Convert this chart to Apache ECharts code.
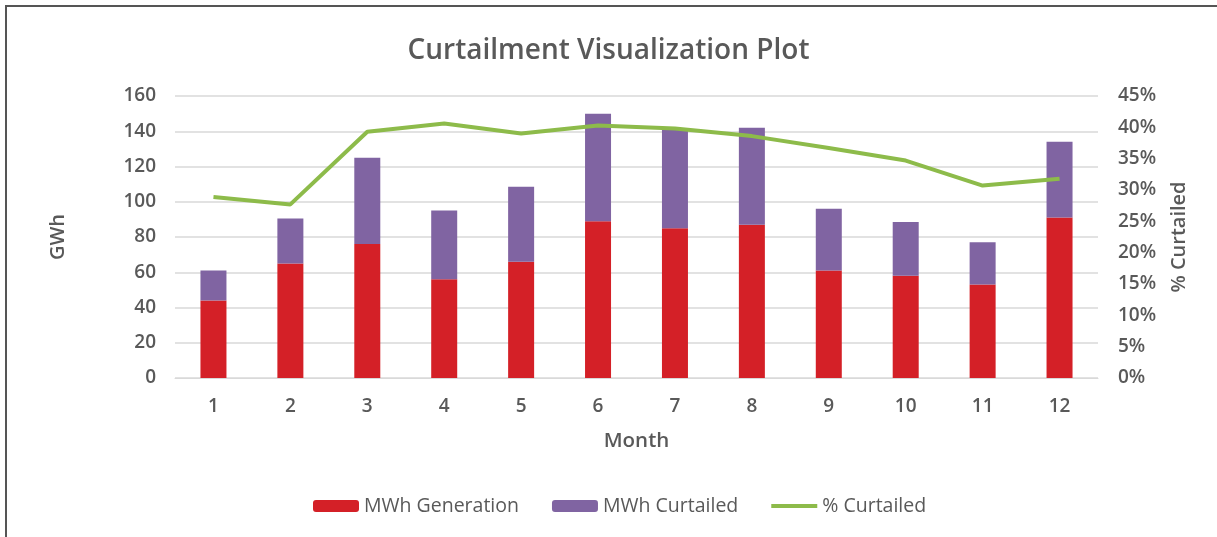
<!DOCTYPE html>
<html>
<head>
<meta charset="utf-8">
<script src="https://cdn.jsdelivr.net/npm/echarts@6/dist/echarts.min.js"></script>
<style>
html,body{margin:0;padding:0;background:#fff;}
#chart{width:1217px;height:537px;}
</style>
</head>
<body>
<div id="chart"></div>
<script>
var months = ['1','2','3','4','5','6','7','8','9','10','11','12'];
var generation = [44, 65, 76, 56, 66, 89, 85, 87, 61, 58, 53, 91];
var curtailed = [17, 25.5, 49, 39, 42.5, 61, 56, 55, 35, 30.5, 24, 43];
var pctCurtailed = [28.9, 27.7, 39.3, 40.6, 39.0, 40.3, 39.8, 38.6, 36.7, 34.7, 30.7, 31.8];

var textColor = '#595959';
var font = '"Open Sans", sans-serif';

var chart = echarts.init(document.getElementById('chart'));
chart.setOption({
  animation: false,
  backgroundColor: '#fff',
  textStyle: { fontFamily: font },
  title: {
    text: 'Curtailment Visualization Plot',
    left: 'center',
    top: 32,
    textStyle: { fontFamily: font, fontSize: 28, fontWeight: 600, color: textColor }
  },
  legend: {
    bottom: 16,
    left: 308,
    itemWidth: 46,
    itemHeight: 12,
    itemGap: 33,
    textStyle: { fontFamily: font, fontSize: 19.5, color: textColor },
    data: [
      { name: 'MWh Generation' },
      { name: 'MWh Curtailed' },
      { name: '% Curtailed', icon: 'path://M0,0 L46,0 L46,4 L0,4 Z' }
    ]
  },
  grid: { left: 175, right: 119, top: 96, bottom: 159, containLabel: false },
  xAxis: {
    type: 'category',
    data: months,
    name: 'Month',
    nameLocation: 'middle',
    nameGap: 53,
    nameTextStyle: { fontFamily: font, fontSize: 20.5, fontWeight: 600, color: textColor },
    axisLine: { show: true, lineStyle: { color: '#D9D9D9', width: 1 } },
    axisTick: { show: false },
    axisLabel: { margin: 19, fontFamily: font, fontSize: 19, fontWeight: 600, color: textColor }
  },
  yAxis: [{
    type: 'value',
    min: 0, max: 160, interval: 20,
    name: 'GWh',
    nameLocation: 'middle',
    nameGap: 107,
    nameTextStyle: { fontFamily: font, fontSize: 20, fontWeight: 600, color: textColor },
    axisLine: { show: false },
    axisTick: { show: false },
    axisLabel: { margin: 19, fontFamily: font, fontSize: 19, fontWeight: 600, color: textColor },
    splitLine: { lineStyle: { color: '#D9D9D9', width: 1.5 } }
  }, {
    type: 'value',
    min: 0, max: 45, interval: 5,
    name: '% Curtailed',
    nameLocation: 'middle',
    nameGap: 71,
    nameTextStyle: { fontFamily: font, fontSize: 20, fontWeight: 600, color: textColor },
    axisLine: { show: false },
    axisTick: { show: false },
    axisLabel: { margin: 20, formatter: '{value}%', fontFamily: font, fontSize: 19, fontWeight: 600, color: textColor },
    splitLine: { show: false }
  }],
  series: [{
    name: 'MWh Generation',
    type: 'bar',
    stack: 'total',
    barWidth: 26,
    itemStyle: { color: '#D42027' },
    data: generation
  }, {
    name: 'MWh Curtailed',
    type: 'bar',
    stack: 'total',
    barWidth: 26,
    itemStyle: { color: '#8064A2' },
    data: curtailed
  }, {
    name: '% Curtailed',
    type: 'line',
    yAxisIndex: 1,
    symbol: 'none',
    lineStyle: { color: '#8DBB4A', width: 4 },
    itemStyle: { color: '#8DBB4A' },
    data: pctCurtailed
  }],
  graphic: [{
    type: 'polyline',
    shape: { points: [[6, 537], [6, 6], [1217, 6]] },
    style: { stroke: '#555555', lineWidth: 2, fill: null },
    silent: true
  }]
});
</script>
</body>
</html>
